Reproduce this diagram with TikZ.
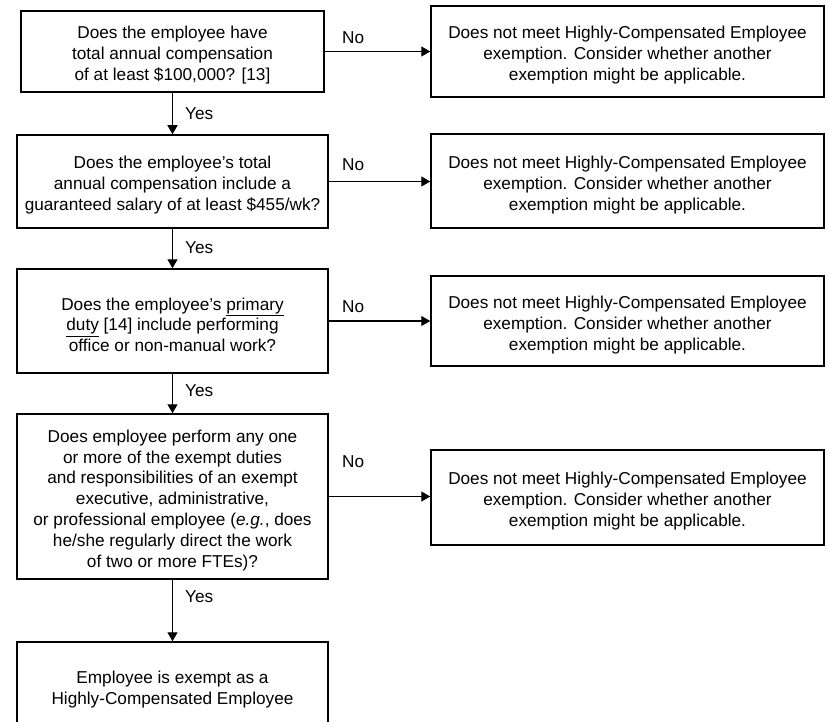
\documentclass[tikz,border=0pt]{standalone}
\usepackage{fontspec}
\setmainfont{Liberation Sans}
\usetikzlibrary{arrows.meta}
\newcommand\toppad{\rule{0pt}{20pt}}
\begin{document}
\begin{tikzpicture}[x=1pt,y=-1pt,
  box/.style={draw, line width=1.5pt, align=center, inner sep=0pt,
    font=\fontsize{17.2}{20.8}\selectfont},
  qbox/.style={box, minimum width=311pt},
  rbox/.style={box, minimum width=393pt},
  conn/.style={line width=1.2pt, -{Triangle[length=9pt,width=10pt]}},
  lbl/.style={anchor=west, inner sep=0pt, font=\fontsize{17.2}{20.8}\selectfont}]
\useasboundingbox (0,0) rectangle (829,722);
\fill[white] (0,0) rectangle (829,722);

\node[box, minimum width=303pt, minimum height=81pt] (b1) at (172.5,51.5)
  {\toppad Does the employee have\\total annual compensation\\of at least \$100,000? [13]};
\node[qbox, minimum height=93pt] (b2) at (172.5,181.5)
  {\toppad Does the employee’s total\\annual compensation include a\\guaranteed salary of at least \$455/wk?};
\node[qbox, minimum height=104pt] (b3) at (172.5,321)
  {\toppad Does the employee’s \underline{primary}\\\underline{duty} [14] include performing\\office or non-manual work?};
\node[qbox, minimum height=165pt] (b4) at (172.5,496.5)
  {\toppad Does employee perform any one\\or more of the exempt duties\\and responsibilities of an exempt\\executive, administrative,\\or professional employee (\textit{e.g.}, does\\he/she regularly direct the work\\of two or more FTEs)?};
\node[qbox, minimum height=88pt] (b5) at (172.5,686)
  {\toppad Employee is exempt as a\\Highly-Compensated Employee};

\node[rbox, minimum height=91pt] (r1) at (627.5,51.5)
  {\toppad Does not meet Highly-Compensated Employee\\exemption. Consider whether another\\exemption might be applicable.};
\node[rbox, minimum height=94pt] (r2) at (627.5,181)
  {\toppad Does not meet Highly-Compensated Employee\\exemption. Consider whether another\\exemption might be applicable.};
\node[rbox, minimum height=90pt] (r3) at (627.5,321)
  {\toppad Does not meet Highly-Compensated Employee\\exemption. Consider whether another\\exemption might be applicable.};
\node[rbox, minimum height=95pt] (r4) at (627.5,497.5)
  {\toppad Does not meet Highly-Compensated Employee\\exemption. Consider whether another\\exemption might be applicable.};

\draw[conn] (b1.east) -- (b1.east -| r1.west);
\draw[conn] (b2.east) -- (b2.east -| r2.west);
\draw[conn] (b3.east) -- (b3.east -| r3.west);
\draw[conn] (b4.east) -- (b4.east -| r4.west);

\draw[conn] (b1.south) -- (b2.north);
\draw[conn] (b2.south) -- (b3.north);
\draw[conn] (b3.south) -- (b4.north);
\draw[conn] (b4.south) -- (b5.north);

\node[lbl] (n1) at (342,38) {No};
\node[lbl] (n2) at (342,165) {No};
\node[lbl] (n3) at (342,307) {No};
\node[lbl] (n4) at (342,462) {No};

\node[lbl] (y1) at (185,114) {Yes};
\node[lbl] (y2) at (185,248) {Yes};
\node[lbl] (y3) at (185,391) {Yes};
\node[lbl] (y4) at (185,597) {Yes};
\end{tikzpicture}
\end{document}
